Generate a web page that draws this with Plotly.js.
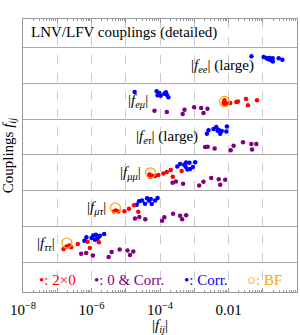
<!DOCTYPE html>
<html>
<head>
<meta charset="utf-8">
<script src="https://cdn.plot.ly/plotly-3.0.1.min.js"></script>
<style>html,body{margin:0;padding:0;background:#fff;}#chart{width:300px;height:335px;}</style>
</head>
<body>
<div id="chart"></div>
<script>
// Band labels (row index 1..6 from bottom; row 0 holds the text legend, row 7 the heading)
const bandLabels = [
  "|<i>f</i><sub><i>ττ</i></sub>|",
  "|<i>f</i><sub><i>μτ</i></sub>|",
  "|<i>f</i><sub><i>μμ</i></sub>|",
  "|<i>f</i><sub><i>eτ</i></sub>| (large)",
  "|<i>f</i><sub><i>eμ</i></sub>|",
  "|<i>f</i><sub><i>ee</i></sub>| (large)"
];
const bandRows = [1, 2, 3, 4, 5, 6];

// "2×0" points (red)
const twoZeroX = [
  1.52e-7, 1.86e-7, 2.25e-7, 2.54e-7, 3.99e-7, 7.7e-7, 8.97e-7, 1.64e-6,
  4.52e-6, 5.18e-6, 6.04e-6, 9.18e-6, 1.24e-5, 1.74e-5, 2.32e-5,
  4.89e-5, 5.12e-5, 5.74e-5, 7.2e-5, 8.95e-5, 1.25e-4, 1.58e-4, 2.07e-4, 2.36e-4, 4.28e-4,
  7.2e-3, 8.0e-3, 9.0e-3, 1.12e-2, 1.69e-2, 1.89e-2, 3.24e-2, 3.7e-2, 6.8e-2, 7.6e-3
];
const twoZeroY = [
  0.864, 0.937, 0.965, 0.915, 1.002, 1.069, 0.892, 1.055,
  1.919, 1.947, 1.919, 1.924, 1.994, 2.092, 1.91,
  2.956, 2.891, 2.928, 2.911, 2.939, 2.984, 3.023, 3.079, 2.891, 3.051,
  4.957, 4.91, 4.94, 4.957, 4.985, 5.0, 5.07, 4.89, 5.03, 5.03
];

// "0 & Corr." points (purple)
const zeroCorrX = [
  4.99e-7, 6.98e-7, 1.1e-6, 3.16e-6, 3.87e-6, 6.64e-6, 1.12e-5, 1.33e-5, 1.66e-5,
  1.86e-5, 2.49e-5, 3.72e-5, 1.15e-4, 1.34e-4, 2.41e-4, 3.86e-4, 4.43e-4, 5.79e-4,
  2.33e-4, 2.91e-4, 4.73e-4, 1.39e-3, 1.86e-3, 3.13e-3, 5.18e-3, 5.73e-3, 8.0e-3,
  2.08e-3, 2.47e-3, 3.95e-3, 1.16e-2, 1.41e-2, 2.65e-2, 4.63e-2, 4.86e-2, 6.5e-2,
  6.9e-5, 1.58e-4, 4.6e-4, 5.2e-4, 9.9e-4, 1.59e-3, 1.86e-3, 2.43e-3
];
const zeroCorrY = [
  0.733, 0.752, 0.685, 0.64, 0.78, 0.853, 0.822, 0.696, 0.797,
  1.722, 1.762, 1.70, 1.658, 1.756, 1.854, 1.798, 1.70, 1.812,
  2.723, 2.757, 2.695, 2.647, 2.751, 2.858, 2.821, 2.667, 2.802,
  3.724, 3.732, 3.682, 3.634, 3.76, 3.859, 3.81, 3.654, 3.81,
  4.742, 4.705, 4.649, 4.77, 4.84, 4.817, 4.677, 4.798
];

// "Corr." points (blue)
const corrX = [
  6.2e-7, 7.1e-7, 1.0e-6, 1.12e-6, 1.26e-6, 1.34e-6, 1.47e-6, 1.76e-6, 2.35e-6, 1.57e-6,
  2.09e-5, 2.44e-5, 2.99e-5, 3.65e-5, 4.18e-5, 4.79e-5, 5.37e-5, 5.74e-5, 7.2e-5, 8.5e-5,
  3.2e-4, 3.86e-4, 5.06e-4, 5.79e-4, 6.32e-4, 7.24e-4, 7.59e-4, 5.6e-4, 9.1e-4, 1.06e-3,
  2.34e-3, 2.61e-3, 3.65e-3, 4.38e-3, 4.79e-3, 5.13e-3, 5.73e-3, 6.34e-3, 8.6e-3, 9.0e-3,
  1.82e-5, 8.0e-5, 8.5e-5, 9.6e-5, 1.05e-4, 1.34e-4, 1.58e-4, 1.76e-4, 1.48e-4,
  0.0468, 0.106, 0.127, 0.143, 0.158, 0.175, 0.197, 0.195, 0.292, 0.374
];
const corrY = [
  1.097, 1.195, 1.173, 1.246, 1.125, 1.265, 1.153, 1.237, 1.285, 1.19,
  2.106, 2.205, 2.227, 2.134, 2.289, 2.219, 2.266, 2.126, 2.227, 2.294,
  3.18, 3.247, 3.228, 3.292, 3.096, 3.284, 3.107, 3.17, 3.163, 3.298,
  4.097, 4.19, 4.229, 4.285, 4.18, 4.21, 4.097, 4.17, 4.16, 4.30,
  5.266, 5.283, 5.176, 5.238, 5.162, 5.218, 5.19, 5.115, 5.255,
  6.264, 6.247, 6.219, 6.18, 6.219, 6.157, 6.12, 6.208, 6.208, 6.17
];

// Best-fit points (orange open circles)
const bestFitX = [1.9e-7, 5.0e-6, 5.3e-5, 7.6e-3];
const bestFitY = [1.033, 2.017, 3.0, 5.0];

// x tick labels (even decades) and odd-decade grid positions
const xTickVals = [1e-8, 1e-6, 1e-4, 1e-2, 1];
const xTickText = ["10<sup>−8</sup>", "10<sup>−6</sup>", "10<sup>−4</sup>", "0.01", "1"];
const xOddDecades = [1e-7, 1e-5, 1e-3, 1e-1];

// Legend entries
const legendText = ["•: 2×0", "•: 0 &amp; Corr.", "•: Corr.", "○: BF"];
const legendColors = ["#ff0000", "#800080", "#0000ff", "#ffa500"];

const FONT = "Liberation Serif, Times New Roman, serif";
const FS = 15;

const minorVals = [];
for (let d = -8; d < 0; d++) {
  for (let k = 2; k <= 9; k++) minorVals.push(k * Math.pow(10, d));
}

const dot = (x, y, color) => ({
  type: "scatter", mode: "markers", x: x, y: y,
  marker: {color: color, size: 4.5, line: {width: 0}},
  hoverinfo: "skip", showlegend: false
});

const data = [
  dot(zeroCorrX, zeroCorrY, "#800080"),
  dot(corrX, corrY, "#0000ff"),
  dot(twoZeroX, twoZeroY, "#ff0000"),
  {
    type: "scatter", mode: "markers", x: bestFitX, y: bestFitY,
    marker: {symbol: "circle-open", color: "#ffa500", size: 10, line: {width: 1.2, color: "#ffa500"}},
    hoverinfo: "skip", showlegend: false
  },
  // invisible trace to activate the odd-decade grid axis
  {type: "scatter", mode: "markers", x: [1e-7], y: [0], xaxis: "x2", yaxis: "y",
   marker: {opacity: 0}, hoverinfo: "skip", showlegend: false}
];

// Label anchors (log10 of right edge) per band
const labelXs = [-7.02, -5.53, -4.49, -2.83, -4.28, -1.19];
const annotations = [];
bandRows.forEach((r, i) => {
  annotations.push({
    x: labelXs[i], y: r, xref: "x", yref: "y", text: bandLabels[i],
    showarrow: false, xanchor: "right", yanchor: "middle",
    font: {family: FONT, size: FS, color: "#000"}
  });
});
annotations.push({
  x: -7.83, y: 6.93, xref: "x", yref: "y", text: "LNV/LFV couplings (detailed)",
  showarrow: false, xanchor: "left", yanchor: "middle",
  font: {family: FONT, size: FS, color: "#000"}
});
const legendXs = [-7.58, -6.0, -3.36, -1.52];
legendText.forEach((t, i) => {
  annotations.push({
    x: legendXs[i], y: 0.0, xref: "x", yref: "y", text: t,
    showarrow: false, xanchor: "left", yanchor: "middle",
    font: {family: FONT, size: FS, color: legendColors[i]}
  });
});

const layout = {
  width: 300, height: 335,
  margin: {l: 23, r: 3, t: 19, b: 43, pad: 0},
  paper_bgcolor: "#fff", plot_bgcolor: "#fff",
  showlegend: false,
  font: {family: FONT, size: FS, color: "#000"},
  xaxis: {
    type: "log", range: [-8, 0],
    tickmode: "array", tickvals: xTickVals, ticktext: xTickText,
    ticks: "inside", ticklen: 4, tickcolor: "#999", tickwidth: 1,
    ticklabelstandoff: 4,
    showgrid: true, gridcolor: "#cccccc", griddash: "dash", gridwidth: 1,
    showline: true, linecolor: "#999", linewidth: 1, mirror: "allticks",
    zeroline: false,
    minor: {tickvals: minorVals, ticks: "inside", ticklen: 2, tickcolor: "#999", showgrid: false},
    tickfont: {family: FONT, size: FS, color: "#000"},
    title: {text: "|<i>f<sub>ij</sub></i>|", font: {family: FONT, size: FS, color: "#000"}, standoff: 8}
  },
  xaxis2: {
    type: "log", range: [-8, 0], overlaying: "x", anchor: "y", side: "bottom",
    tickmode: "array", tickvals: xOddDecades, showticklabels: false,
    ticks: "inside", ticklen: 4, tickcolor: "#999", tickwidth: 1,
    showgrid: true, gridcolor: "#cccccc", griddash: "dash", gridwidth: 1,
    showline: false, mirror: "allticks", zeroline: false
  },
  yaxis: {
    range: [-0.34, 7.31],
    tickmode: "array", tickvals: [0.5, 1.5, 2.5, 3.5, 4.5, 5.5, 6.5],
    showticklabels: false, ticks: "",
    showgrid: true, gridcolor: "#aaaaaa", gridwidth: 1,
    showline: true, linecolor: "#999", linewidth: 1, mirror: true,
    zeroline: false,
    title: {text: "Couplings <i>f<sub>ij</sub></i>", font: {family: FONT, size: FS, color: "#000"}, standoff: 5}
  },
  annotations: annotations
};

Plotly.newPlot("chart", data, layout, {staticPlot: true, displayModeBar: false});
</script>
</body>
</html>
